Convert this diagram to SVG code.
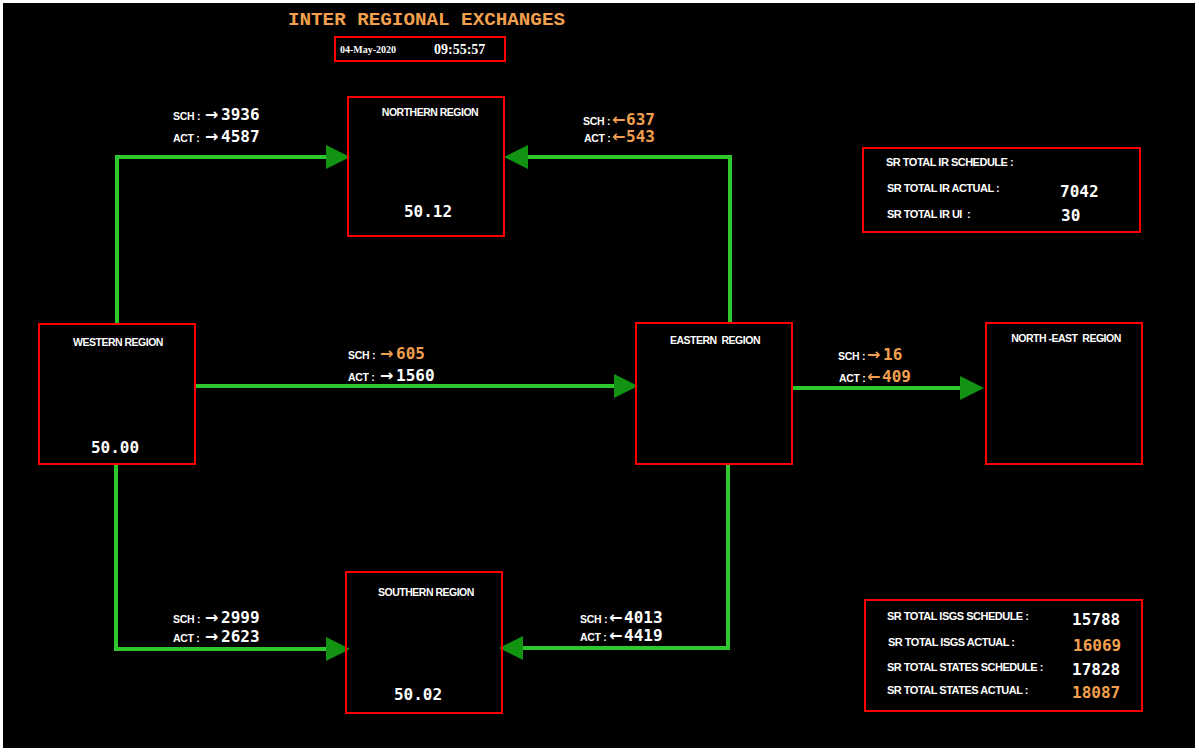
<svg xmlns="http://www.w3.org/2000/svg" width="1199" height="752" viewBox="0 0 1199 752">
<style>
.bg{fill:#000}
.box{fill:none;stroke:#ff0000;stroke-width:2}
.lbl{font-family:"Liberation Sans",Arial,sans-serif;font-weight:bold;font-size:11px;fill:#fff;letter-spacing:-0.5px}
.tl{font-family:"Liberation Sans",Arial,sans-serif;font-weight:bold;font-size:10.5px;fill:#fff;letter-spacing:-0.5px}
.sm{font-family:"Liberation Sans",Arial,sans-serif;font-weight:bold;font-size:10.5px;fill:#fff;letter-spacing:-0.3px}
.val{font-family:"DejaVu Sans Mono",monospace;font-weight:bold;font-size:16px;fill:#fff}
.freq{font-family:"DejaVu Sans Mono",monospace;font-weight:bold;font-size:16px;fill:#fff}
.or{fill:#f2a04e}
.wh{fill:#fff}
.arr{font-family:"DejaVu Sans",sans-serif;font-weight:bold;font-size:16px}
.ln{fill:none;stroke:#2ec82e;stroke-width:4}
</style>
<defs>
<marker id="ah" viewBox="0 0 10 10" refX="7.5" refY="5" markerWidth="8" markerHeight="6" markerUnits="strokeWidth" orient="auto">
<path d="M0,0 L10,5 L0,10 Z" fill="#129412"/>
</marker>
</defs>
<rect x="0" y="0" width="1199" height="752" fill="#fff"/>
<rect class="bg" x="3" y="3" width="1192" height="745"/>

<g id="title">
<text x="288" y="25" font-family="Liberation Mono,monospace" font-weight="bold" font-size="19" fill="#f2a04e" textLength="277" lengthAdjust="spacingAndGlyphs">INTER REGIONAL EXCHANGES</text>
<rect class="box" x="335" y="37" width="170" height="24"/>
<text x="340" y="53" font-family="Liberation Serif,serif" font-weight="bold" font-size="10" fill="#fff">04-May-2020</text>
<text x="434" y="54" font-family="Liberation Serif,serif" font-weight="bold" font-size="14" fill="#fff">09:55:57</text>
</g>

<g id="connectors">
<path class="ln" d="M117,324 V157 H344" marker-end="url(#ah)"/>
<path class="ln" d="M730,323 V157 H510" marker-end="url(#ah)"/>
<path class="ln" d="M195,386 H632" marker-end="url(#ah)"/>
<path class="ln" d="M792,388 H978" marker-end="url(#ah)"/>
<path class="ln" d="M116,464 V649 H344" marker-end="url(#ah)"/>
<path class="ln" d="M728,464 V648 H505" marker-end="url(#ah)"/>
</g>

<g id="labels-wn">
<text class="sm" x="173" y="120">SCH :</text><text class="arr wh" x="205" y="120">→</text><text class="val" x="221" y="120">3936</text>
<text class="sm" x="173" y="142">ACT :</text><text class="arr wh" x="205" y="142">→</text><text class="val" x="221" y="142">4587</text>
</g>
<g id="labels-en">
<text class="sm" x="583" y="125">SCH :</text><text class="arr or" x="612" y="125">←</text><text class="val or" x="626" y="125">637</text>
<text class="sm" x="584" y="142">ACT :</text><text class="arr or" x="612" y="142">←</text><text class="val or" x="626" y="142">543</text>
</g>
<g id="labels-we">
<text class="sm" x="348" y="359">SCH :</text><text class="arr or" x="380" y="359">→</text><text class="val or" x="396" y="359">605</text>
<text class="sm" x="348" y="381">ACT :</text><text class="arr wh" x="380" y="381">→</text><text class="val" x="396" y="381">1560</text>
</g>
<g id="labels-ene">
<text class="sm" x="838" y="360">SCH :</text><text class="arr or" x="867" y="360">→</text><text class="val or" x="883" y="360">16</text>
<text class="sm" x="839" y="382">ACT :</text><text class="arr or" x="867" y="382">←</text><text class="val or" x="882" y="382">409</text>
</g>
<g id="labels-ws">
<text class="sm" x="173" y="623">SCH :</text><text class="arr wh" x="205" y="623">→</text><text class="val" x="221" y="623">2999</text>
<text class="sm" x="173" y="642">ACT :</text><text class="arr wh" x="205" y="642">→</text><text class="val" x="221" y="642">2623</text>
</g>
<g id="labels-es">
<text class="sm" x="580" y="623">SCH :</text><text class="arr wh" x="609" y="623">←</text><text class="val" x="624" y="623">4013</text>
<text class="sm" x="580" y="641">ACT :</text><text class="arr wh" x="609" y="641">←</text><text class="val" x="624" y="641">4419</text>
</g>

<g id="northern">
<rect class="box" x="348" y="97" width="156" height="139"/>
<text class="tl" x="430" y="116" text-anchor="middle">NORTHERN REGION</text>
<text class="freq" x="428" y="217" text-anchor="middle">50.12</text>
</g>
<g id="western">
<rect class="box" x="39" y="324" width="156" height="140"/>
<text class="tl" x="118" y="346" text-anchor="middle">WESTERN REGION</text>
<text class="freq" x="115" y="453" text-anchor="middle">50.00</text>
</g>
<g id="southern">
<rect class="box" x="346" y="572" width="156" height="141"/>
<text class="tl" x="426" y="596" text-anchor="middle">SOUTHERN REGION</text>
<text class="freq" x="418" y="700" text-anchor="middle">50.02</text>
</g>
<g id="eastern">
<rect class="box" x="636" y="323" width="156" height="141"/>
<text class="tl" x="715" y="344" text-anchor="middle" xml:space="preserve">EASTERN  REGION</text>
</g>
<g id="northeast">
<rect class="box" x="986" y="323" width="156" height="141"/>
<text class="tl" x="1066" y="342" text-anchor="middle" xml:space="preserve">NORTH -EAST  REGION</text>
</g>

<g id="ir-summary">
<rect class="box" x="863" y="148" width="277" height="84"/>
<text class="lbl" x="886" y="166">SR TOTAL IR SCHEDULE :</text>
<text class="lbl" x="887" y="192">SR TOTAL IR ACTUAL :</text>
<text class="val" x="1060" y="197" font-size="17">7042</text>
<text class="lbl" x="887" y="218" xml:space="preserve">SR TOTAL IR UI  :</text>
<text class="val" x="1061" y="221" font-size="17">30</text>
</g>

<g id="isgs-summary">
<rect class="box" x="865" y="600" width="277" height="111"/>
<text class="lbl" x="887" y="620">SR TOTAL ISGS SCHEDULE :</text>
<text class="val" x="1072" y="625" font-size="17">15788</text>
<text class="lbl" x="888" y="646">SR TOTAL ISGS ACTUAL :</text>
<text class="val or" x="1073" y="651" font-size="17">16069</text>
<text class="lbl" x="887" y="671">SR TOTAL STATES SCHEDULE :</text>
<text class="val" x="1072" y="675" font-size="17">17828</text>
<text class="lbl" x="887" y="694">SR TOTAL STATES ACTUAL :</text>
<text class="val or" x="1072" y="698" font-size="17">18087</text>
</g>
</svg>
